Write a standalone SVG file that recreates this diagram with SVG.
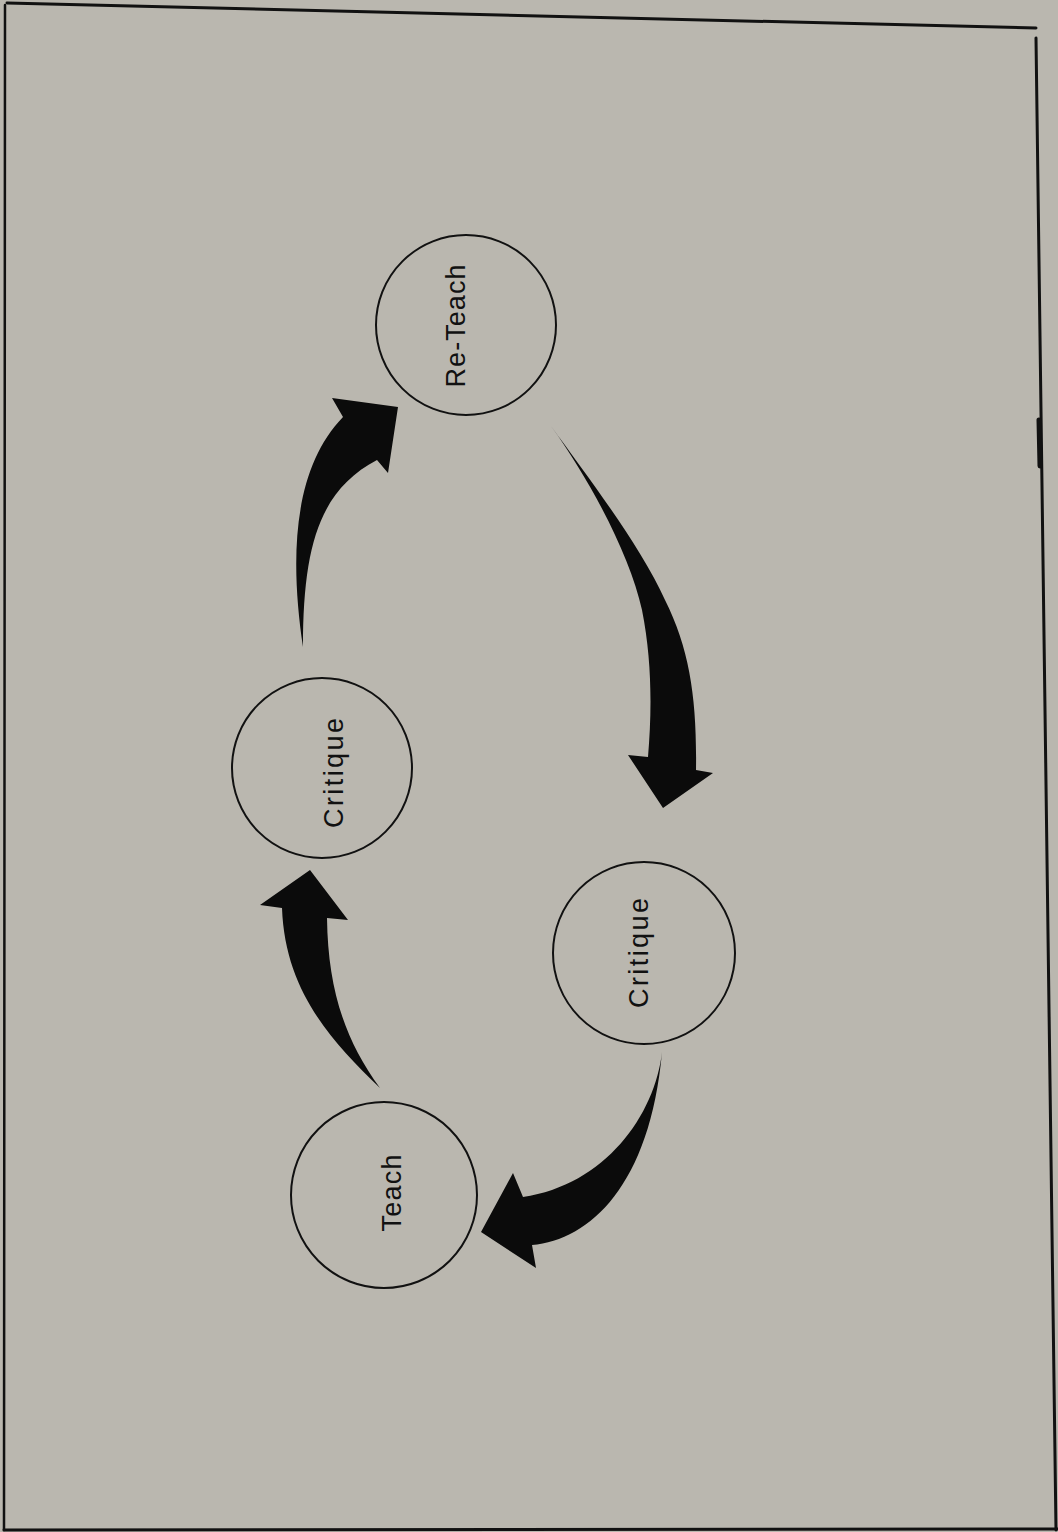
<svg xmlns="http://www.w3.org/2000/svg" width="1058" height="1532" viewBox="0 0 1058 1532">
  <style>
    .frame { stroke: #111; fill: none; stroke-linecap: round; }
    .node circle { fill: none; stroke: #111; stroke-width: 2; }
    .node text { font-family: "Liberation Sans", Arial, sans-serif; font-size: 27px; fill: #111; text-anchor: middle; }
    .arrow { fill: #0b0b0b; stroke: none; }
  </style>

  <!-- paper -->
  <rect x="0" y="0" width="1058" height="1532" fill="#bab7af"/>

  <!-- hand-ruled frame -->
  <g id="frame">
    <line class="frame" x1="7" y1="3" x2="1036" y2="28" stroke-width="3"/>
    <line class="frame" x1="5" y1="5" x2="4" y2="1530" stroke-width="2.5"/>
    <line class="frame" x1="1036" y1="38" x2="1056" y2="1530" stroke-width="3"/>
    <line class="frame" x1="4" y1="1530" x2="1058" y2="1529" stroke-width="3"/>
    <line class="frame" x1="1039" y1="420" x2="1040" y2="466" stroke-width="5"/>
  </g>

  <!-- cycle steps -->
  <g id="node-reteach" class="node">
    <circle cx="466" cy="325" r="90"/>
    <text transform="translate(465,326) rotate(-90)" textLength="123" lengthAdjust="spacing">Re-Teach</text>
  </g>
  <g id="node-critique-1" class="node">
    <circle cx="322" cy="768" r="90"/>
    <text transform="translate(343,773) rotate(-90)" textLength="110" lengthAdjust="spacing">Critique</text>
  </g>
  <g id="node-critique-2" class="node">
    <circle cx="644" cy="953" r="91"/>
    <text transform="translate(648,953) rotate(-90)" textLength="110" lengthAdjust="spacing">Critique</text>
  </g>
  <g id="node-teach" class="node">
    <circle cx="384" cy="1195" r="93"/>
    <text transform="translate(401,1193) rotate(-90)" textLength="77" lengthAdjust="spacing">Teach</text>
  </g>

  <!-- tapered curved arrows -->
  <g id="connectors">
    <!-- Re-Teach to Critique (right) -->
    <path id="arrow-reteach-critique2" class="arrow" d="M551,426 C590,480 640,545 665,600 C690,650 697,700 696,770 L713,773 L663,808 L628,755 L648,757 C652,710 652,660 642,610 C630,555 590,480 551,426 Z"/>
    <!-- Critique (right) to Teach -->
    <path id="arrow-critique2-teach" class="arrow" d="M662,1052 C655,1115 605,1185 523,1197 L513,1173 L481,1232 L536,1268 L532,1245 C590,1240 650,1185 662,1052 Z"/>
    <!-- Teach to Critique (left) -->
    <path id="arrow-teach-critique1" class="arrow" d="M380,1088 C330,1040 285,990 282,908 L260,905 L310,870 L348,920 L327,918 C328,990 345,1040 380,1088 Z"/>
    <!-- Critique (left) to Re-Teach -->
    <path id="arrow-critique1-reteach" class="arrow" d="M303,647 C290,560 292,470 343,417 L332,398 L398,407 L388,473 L377,460 C320,490 303,545 303,647 Z"/>
  </g>
</svg>
